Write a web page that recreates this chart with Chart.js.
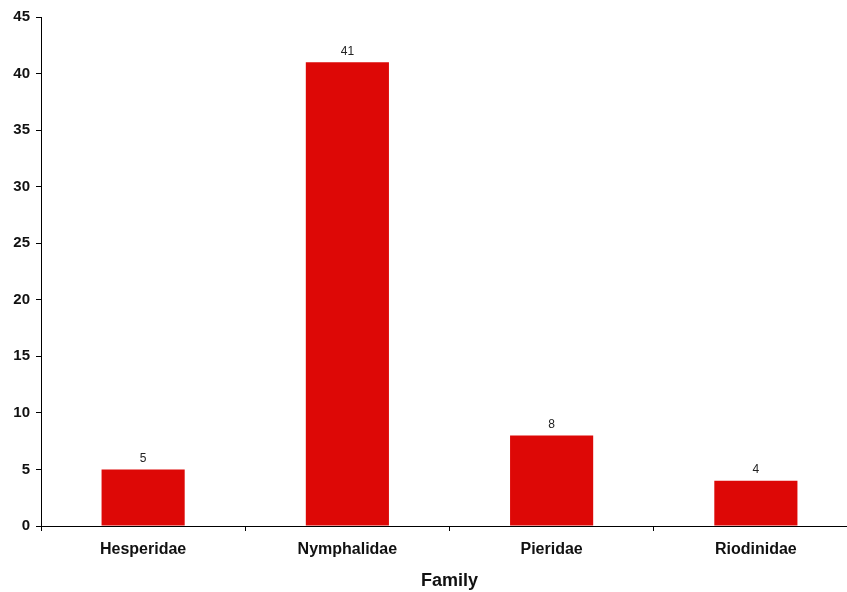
<!DOCTYPE html>
<html>
<head>
<meta charset="utf-8">
<script src="https://cdn.jsdelivr.net/npm/chart.js@4/dist/chart.umd.min.js"></script>
<style>
  html, body { margin: 0; padding: 0; background: #fff; overflow: hidden; }
  #wrap { width: 847px; height: 592px; overflow: hidden; }
  #c { display: block; }
</style>
</head>
<body>
<div id="wrap"><canvas id="c" width="858" height="592"></canvas></div>
<script>
// Butterfly species counts per family
const families = ['Hesperidae', 'Nymphalidae', 'Pieridae', 'Riodinidae'];
const speciesCounts = [5, 41, 8, 4];
const yTicks = [0, 5, 10, 15, 20, 25, 30, 35, 40, 45];

const barColor = 'rgb(221, 8, 6)';
const fontFamily = '"Liberation Sans", Arial, Helvetica, sans-serif';

// Writes each bar's value just above it
const valueLabels = {
  id: 'valueLabels',
  afterDatasetsDraw(chart) {
    const ctx = chart.ctx;
    const meta = chart.getDatasetMeta(0);
    ctx.save();
    ctx.font = '12px ' + fontFamily;
    ctx.fillStyle = '#222';
    ctx.textAlign = 'center';
    ctx.textBaseline = 'bottom';
    meta.data.forEach((bar, i) => {
      ctx.fillText(String(speciesCounts[i]), bar.x, bar.y - 5);
    });
    ctx.restore();
  }
};

new Chart(document.getElementById('c'), {
  type: 'bar',
  data: {
    labels: families,
    datasets: [{
      data: speciesCounts,
      backgroundColor: barColor,
      borderWidth: 0,
      categoryPercentage: 1,
      barPercentage: 0.407
    }]
  },
  options: {
    responsive: false,
    animation: false,
    devicePixelRatio: 1,
    layout: { padding: { top: 17, right: 0, bottom: 0, left: 0 } },
    plugins: {
      legend: { display: false },
      tooltip: { enabled: false }
    },
    scales: {
      x: {
        offset: true,
        grid: {
          offset: true,
          drawOnChartArea: false,
          drawTicks: true,
          tickLength: 5,
          color: '#000'
        },
        border: { color: '#000', width: 1 },
        ticks: {
          color: '#111',
          padding: 9,
          font: { family: fontFamily, size: 16, weight: 'bold' }
        },
        title: {
          display: true,
          text: 'Family',
          color: '#111',
          padding: { top: 0, bottom: 0 },
          font: { family: fontFamily, size: 18, weight: 'bold' }
        },
        afterFit(scale) { scale.height = 66; }
      },
      y: {
        min: 0,
        max: 45,
        afterBuildTicks(scale) { scale.ticks = yTicks.map(v => ({ value: v })); },
        grid: {
          drawOnChartArea: false,
          drawTicks: true,
          tickLength: 5,
          color: '#000'
        },
        border: { color: '#000', width: 1 },
        ticks: {
          color: '#111',
          padding: 6,
          font: { family: fontFamily, size: 15, weight: 'bold' }
        },
        afterFit(scale) { scale.width = 41; }
      }
    }
  },
  plugins: [valueLabels]
});
</script>
</body>
</html>
